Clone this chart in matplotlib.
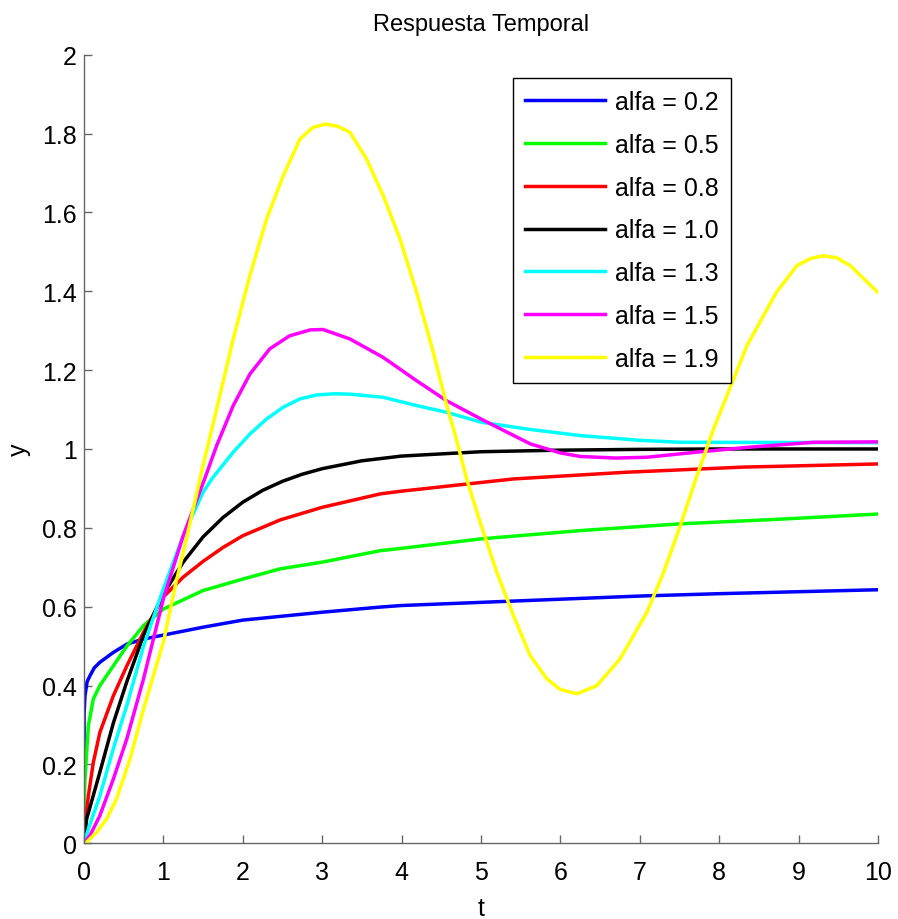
import matplotlib.pyplot as plt
from matplotlib.ticker import FormatStrFormatter

plt.rcParams['font.family'] = ['Liberation Sans', 'DejaVu Sans']

labels = ['alfa = 0.2', 'alfa = 0.5', 'alfa = 0.8', 'alfa = 1.0',
          'alfa = 1.3', 'alfa = 1.5', 'alfa = 1.9']
colors = ['#0000ff', '#00ff00', '#ff0000', '#000000',
          '#00ffff', '#ff00ff', '#ffff00']

# values
t_02 = [0, 0.002, 0.013, 0.04, 0.076, 0.13, 0.2, 0.37, 0.54, 0.75, 1.0, 1.5,
        2.0, 3.0, 3.73, 4.0, 5.0, 6.0, 7.0, 8.0, 9.0, 10.0]
y_02 = [0, 0.33, 0.374, 0.41, 0.425, 0.445, 0.459, 0.484, 0.505, 0.518, 0.528,
        0.548, 0.566, 0.586, 0.599, 0.603, 0.611, 0.619, 0.627, 0.633, 0.638, 0.643]

t_05 = [0, 0.004, 0.013, 0.055, 0.118, 0.2, 0.37, 0.54, 0.75, 1.0, 1.5, 2.0,
        2.47, 3.0, 3.73, 4.0, 5.0, 6.25, 7.5, 8.77, 10.0]
y_05 = [0, 0.1, 0.163, 0.298, 0.366, 0.40, 0.45, 0.50, 0.552, 0.594, 0.641,
        0.670, 0.696, 0.713, 0.742, 0.748, 0.772, 0.793, 0.81, 0.822, 0.835]

t_08 = [0, 0.013, 0.055, 0.118, 0.2, 0.37, 0.54, 0.75, 1.0, 1.25, 1.5, 1.75,
        2.0, 2.47, 3.0, 3.73, 4.0, 5.0, 5.41, 6.83, 8.3, 10.0]
y_08 = [0.01, 0.045, 0.12, 0.205, 0.281, 0.374, 0.45, 0.535, 0.625, 0.675,
        0.715, 0.75, 0.78, 0.82, 0.852, 0.886, 0.893, 0.915, 0.924, 0.941,
        0.954, 0.962]

t_10 = [0, 0.034, 0.2, 0.37, 0.54, 0.75, 1.0, 1.25, 1.5, 1.75, 2.0, 2.25, 2.5,
        2.75, 3.0, 3.5, 4.0, 5.0, 6.0, 7.0, 8.0, 10.0]
y_10 = [0, 0.062, 0.18, 0.305, 0.41, 0.527, 0.632, 0.713, 0.777, 0.826, 0.865,
        0.895, 0.918, 0.936, 0.95, 0.97, 0.982, 0.993, 0.997, 0.999, 1.0, 1.0]

t_13 = [0, 0.055, 0.2, 0.37, 0.54, 0.75, 1.0, 1.25, 1.5, 1.61, 1.88, 2.09,
        2.30, 2.51, 2.72, 2.93, 3.15, 3.35, 3.77, 4.19, 4.57, 5.0, 5.6, 6.25,
        7.0, 7.5, 10.0]
y_13 = [0, 0.036, 0.12, 0.24, 0.35, 0.50, 0.645, 0.78, 0.89, 0.924, 0.992,
        1.038, 1.076, 1.106, 1.127, 1.137, 1.14, 1.139, 1.131, 1.11, 1.093,
        1.068, 1.05, 1.034, 1.022, 1.017, 1.016]

t_15 = [0, 0.076, 0.2, 0.37, 0.54, 0.75, 1.0, 1.25, 1.52, 1.67, 1.88, 2.09,
        2.34, 2.59, 2.85, 3.01, 3.35, 3.77, 4.19, 4.57, 5.0, 5.62, 6.0, 6.25,
        6.7, 7.09, 7.72, 8.35, 9.19, 10.0]
y_15 = [0, 0.02, 0.07, 0.163, 0.265, 0.417, 0.62, 0.78, 0.924, 1.008, 1.11,
        1.19, 1.254, 1.287, 1.302, 1.303, 1.279, 1.232, 1.173, 1.122, 1.076,
        1.013, 0.99, 0.981, 0.977, 0.979, 0.992, 1.004, 1.017, 1.018]

t_19 = [0, 0.03, 0.16, 0.286, 0.41, 0.58, 0.75, 0.874, 1.0, 1.15, 1.29, 1.5,
        1.67, 1.88, 2.09, 2.30, 2.51, 2.72, 2.88, 3.04, 3.2, 3.35, 3.56, 3.77,
        3.98, 4.19, 4.40, 4.57, 4.69, 4.82, 4.99, 5.20, 5.41, 5.62, 5.83, 6.0,
        6.21, 6.46, 6.75, 7.09, 7.30, 7.51, 7.72, 7.93, 8.35, 8.72, 8.98, 9.15,
        9.31, 9.48, 9.65, 10.0]
y_19 = [0, 0.002, 0.028, 0.062, 0.112, 0.214, 0.34, 0.425, 0.51, 0.653, 0.772,
        0.958, 1.10, 1.279, 1.44, 1.583, 1.693, 1.786, 1.815, 1.824, 1.818,
        1.803, 1.735, 1.642, 1.533, 1.397, 1.245, 1.11, 1.025, 0.924, 0.814,
        0.687, 0.577, 0.476, 0.417, 0.39, 0.379, 0.40, 0.467, 0.586, 0.687,
        0.805, 0.932, 1.051, 1.262, 1.397, 1.465, 1.483, 1.49, 1.485, 1.465,
        1.397]

series_t = [t_02, t_05, t_08, t_10, t_13, t_15, t_19]
series_y = [y_02, y_05, y_08, y_10, y_13, y_15, y_19]

fig = plt.figure(figsize=(8.98, 9.2), dpi=100)
ax = fig.add_axes([0.0935, 0.0823, 0.8842, 0.8572])

for t, y, c, lab in zip(series_t, series_y, colors, labels):
    ax.plot(t, y, color=c, linewidth=2.5, label=lab)

ax.set_xlim(0, 10)
ax.set_ylim(0, 2)
ax.set_xticks(range(0, 11))
ax.set_yticks([i * 0.2 for i in range(11)])
ax.yaxis.set_major_formatter(FormatStrFormatter('%g'))

for side in ['top', 'right']:
    ax.spines[side].set_visible(False)
for side in ['left', 'bottom']:
    ax.spines[side].set_color('#666666')
    ax.spines[side].set_linewidth(1.0)
ax.tick_params(direction='in', length=6, width=1.0, color='#666666',
               labelsize=18, labelcolor='black')
ax.tick_params(axis='x', pad=12)
ax.tick_params(axis='y', pad=5)

ax.set_title('Respuesta Temporal', fontsize=17, pad=18)
ax.set_xlabel('t', fontsize=18, labelpad=9)
ax.set_ylabel('y', fontsize=18, labelpad=8)

leg = ax.legend(loc='upper left', bbox_to_anchor=(0.54, 0.971),
                borderaxespad=0, fontsize=18, handlelength=3.2,
                handletextpad=0.4, labelspacing=0.75, borderpad=0.5,
                fancybox=False, framealpha=1, edgecolor='black')
leg.get_frame().set_linewidth(1.0)

fig.savefig('out.png', dpi=100, facecolor='white')
